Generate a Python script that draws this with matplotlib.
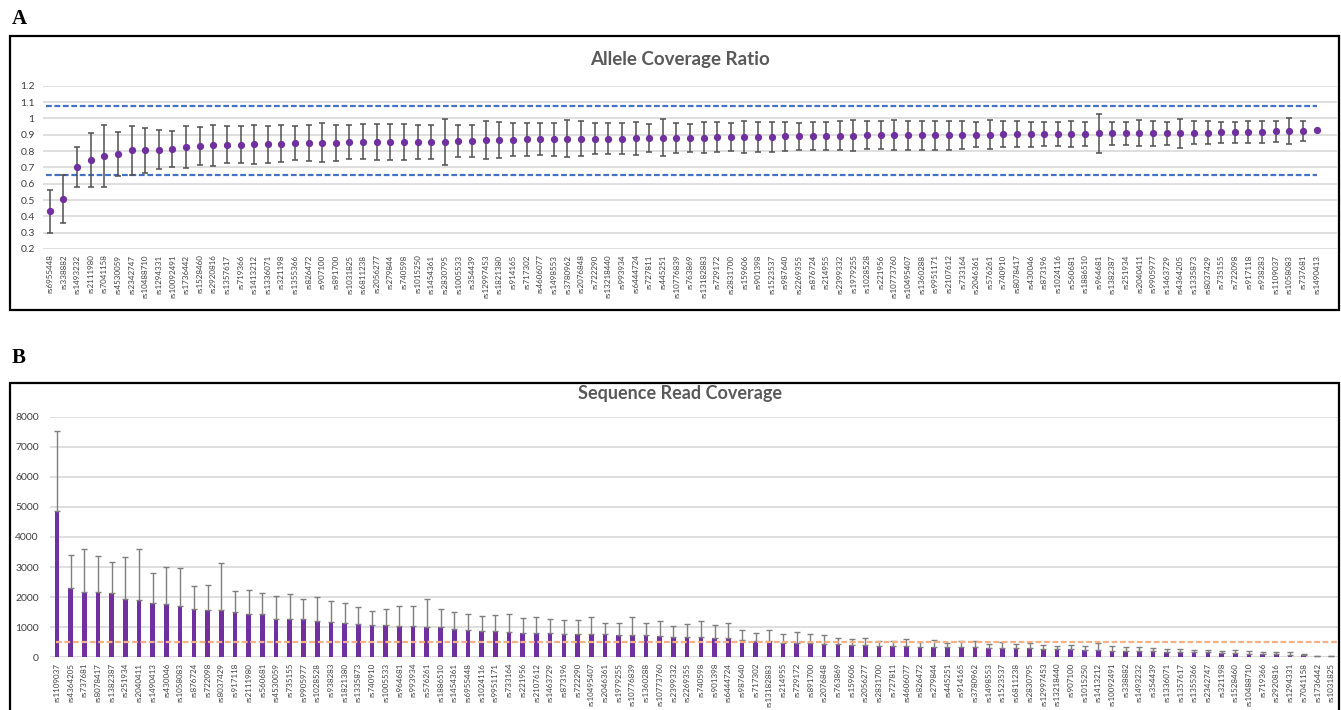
import matplotlib
matplotlib.use("Agg")
import matplotlib.pyplot as plt
from matplotlib.patches import Rectangle
import numpy as np

# ---------------- data ----------------
ratio_snps = [
    "rs6955448", "rs338882", "rs1493232", "rs2111980", "rs7041158", "rs4530059",
    "rs2342747", "rs10488710", "rs1294331", "rs10092491", "rs1736442", "rs1528460",
    "rs2920816", "rs1357617", "rs719366", "rs1413212", "rs1336071", "rs321198",
    "rs1355366", "rs826472", "rs907100", "rs891700", "rs1031825", "rs6811238",
    "rs2056277", "rs279844", "rs740598", "rs1015250", "rs1454361", "rs2830795",
    "rs1005533", "rs354439", "rs12997453", "rs1821380", "rs914165", "rs717302",
    "rs4606077", "rs1498553", "rs3780962", "rs2076848", "rs722290", "rs13218440",
    "rs993934", "rs6444724", "rs727811", "rs445251", "rs10776839", "rs763869",
    "rs13182883", "rs729172", "rs2831700", "rs159606", "rs901398", "rs1523537",
    "rs987640", "rs2269355", "rs876724", "rs214955", "rs2399332", "rs1979255",
    "rs1028528", "rs221956", "rs10773760", "rs10495407", "rs1360288", "rs9951171",
    "rs2107612", "rs733164", "rs2046361", "rs576261", "rs740910", "rs8078417",
    "rs430046", "rs873196", "rs1024116", "rs560681", "rs1886510", "rs964681",
    "rs1382387", "rs251934", "rs2040411", "rs9905977", "rs1463729", "rs4364205",
    "rs1335873", "rs8037429", "rs735155", "rs722098", "rs917118", "rs938283",
    "rs1109037", "rs1058083", "rs737681", "rs1490413",
]
ratio_mean = [
    0.430, 0.506, 0.702, 0.747, 0.769, 0.782, 0.804, 0.804, 0.808, 0.812,
    0.824, 0.829, 0.835, 0.839, 0.839, 0.841, 0.841, 0.845, 0.851, 0.851,
    0.851, 0.851, 0.855, 0.857, 0.857, 0.857, 0.857, 0.857, 0.857, 0.857,
    0.861, 0.863, 0.867, 0.869, 0.869, 0.871, 0.871, 0.871, 0.876, 0.876,
    0.876, 0.876, 0.876, 0.878, 0.878, 0.882, 0.882, 0.882, 0.882, 0.886,
    0.886, 0.886, 0.886, 0.886, 0.890, 0.890, 0.890, 0.894, 0.894, 0.894,
    0.896, 0.896, 0.896, 0.896, 0.896, 0.896, 0.896, 0.900, 0.900, 0.900,
    0.902, 0.902, 0.902, 0.904, 0.904, 0.904, 0.904, 0.908, 0.908, 0.908,
    0.908, 0.908, 0.908, 0.908, 0.912, 0.912, 0.914, 0.914, 0.916, 0.916,
    0.920, 0.922, 0.922, 0.927,
]
ratio_sd = [
    0.130, 0.145, 0.125, 0.165, 0.190, 0.135, 0.150, 0.140, 0.120, 0.112,
    0.130, 0.117, 0.125, 0.114, 0.113, 0.118, 0.115, 0.115, 0.105, 0.110,
    0.118, 0.110, 0.105, 0.108, 0.110, 0.110, 0.110, 0.105, 0.105, 0.142,
    0.100, 0.097, 0.118, 0.110, 0.100, 0.100, 0.098, 0.100, 0.113, 0.105,
    0.095, 0.095, 0.097, 0.100, 0.087, 0.113, 0.092, 0.085, 0.097, 0.092,
    0.088, 0.097, 0.090, 0.090, 0.088, 0.083, 0.086, 0.085, 0.090, 0.095,
    0.085, 0.085, 0.092, 0.088, 0.088, 0.088, 0.088, 0.085, 0.078, 0.088,
    0.080, 0.080, 0.077, 0.076, 0.072, 0.082, 0.074, 0.120, 0.070, 0.070,
    0.080, 0.075, 0.072, 0.087, 0.070, 0.070, 0.066, 0.066, 0.068, 0.066,
    0.062, 0.078, 0.060, 0.000,
]
ratio_upper_limit = 1.077
ratio_lower_limit = 0.653

cov_snps = [
    "rs1109037", "rs4364205", "rs737681", "rs8078417", "rs1382387", "rs251934",
    "rs2040411", "rs1490413", "rs430046", "rs1058083", "rs876724", "rs722098",
    "rs8037429", "rs917118", "rs2111980", "rs560681", "rs4530059", "rs735155",
    "rs9905977", "rs1028528", "rs938283", "rs1821380", "rs1335873", "rs740910",
    "rs1005533", "rs964681", "rs993934", "rs576261", "rs1886510", "rs1454361",
    "rs6955448", "rs1024116", "rs9951171", "rs733164", "rs221956", "rs2107612",
    "rs1463729", "rs873196", "rs722290", "rs10495407", "rs2046361", "rs1979255",
    "rs10776839", "rs1360288", "rs10773760", "rs2399332", "rs2269355", "rs740598",
    "rs901398", "rs6444724", "rs987640", "rs717302", "rs13182883", "rs214955",
    "rs729172", "rs891700", "rs2076848", "rs763869", "rs159606", "rs2056277",
    "rs2831700", "rs727811", "rs4606077", "rs826472", "rs279844", "rs445251",
    "rs914165", "rs3780962", "rs1498553", "rs1523537", "rs6811238", "rs2830795",
    "rs12997453", "rs13218440", "rs907100", "rs1015250", "rs1413212", "rs10092491",
    "rs338882", "rs1493232", "rs354439", "rs1336071", "rs1357617", "rs1355366",
    "rs2342747", "rs321198", "rs1528460", "rs10488710", "rs719366", "rs2920816",
    "rs1294331", "rs7041158", "rs1736442", "rs1031825",
]
cov_mean = [
    4870, 2294, 2183, 2183, 2150, 1939, 1917, 1795, 1762, 1706,
    1618, 1573, 1573, 1518, 1452, 1429, 1285, 1274, 1263, 1208,
    1175, 1130, 1108, 1064, 1064, 1030, 1030, 1008, 997, 953,
    897, 886, 886, 831, 798, 798, 798, 787, 776, 765,
    765, 753, 753, 731, 720, 687, 676, 665, 632, 632,
    587, 543, 543, 488, 476, 476, 443, 432, 410, 399,
    377, 366, 366, 355, 332, 332, 332, 332, 299, 299,
    299, 299, 288, 277, 277, 233, 233, 222, 211, 211,
    200, 177, 166, 166, 166, 133, 133, 122, 100, 100,
    89, 66, 44, 44,
]
cov_sd = [
    2670, 1110, 1410, 1200, 1030, 1400, 1670, 1010, 1230, 1250,
    750, 840, 1570, 690, 800, 720, 765, 830, 675, 810,
    700, 665, 575, 465, 545, 690, 690, 930, 620, 545,
    545, 500, 530, 620, 510, 530, 490, 455, 455, 575,
    390, 400, 600, 420, 475, 365, 430, 530, 430, 500,
    310, 265, 355, 300, 355, 290, 290, 220, 210, 255,
    165, 175, 230, 155, 230, 155, 210, 210, 155, 210,
    155, 165, 120, 110, 120, 135, 230, 145, 145, 120,
    100, 100, 100, 80, 90, 90, 120, 100, 80, 80,
    80, 45, 10, 10,
]
cov_threshold = 500

# ---------------- styling ----------------
PURPLE = "#7030A0"
GRID = "#D9D9D9"
TITLE_GRAY = "#595959"
TICK_GRAY = "#404040"
FONT = "Lato"

W, H = 1341, 710
fig = plt.figure(figsize=(W / 100, H / 100), dpi=100)
fig.patch.set_facecolor("white")


def px_axes(left, top, right, bottom):
    return fig.add_axes([left / W, 1 - bottom / H, (right - left) / W, (bottom - top) / H])


def px_box(left, top, right, bottom):
    fig.patches.append(Rectangle((left / W, 1 - bottom / H), (right - left) / W,
                                 (bottom - top) / H, transform=fig.transFigure,
                                 fill=False, edgecolor="black", linewidth=1.6))


def style_axes(ax):
    for s in ax.spines.values():
        s.set_visible(False)
    ax.grid(axis="y", color=GRID, linewidth=1.2)
    ax.set_axisbelow(True)
    ax.tick_params(axis="both", length=0, colors=TICK_GRAY)


# ---------------- panel A ----------------
px_box(10, 36, 1339, 310)
fig.text(12 / W, 1 - 19 / H, "A", family="Liberation Serif", fontsize=15,
         fontweight="bold", va="center", ha="left")
fig.text(680 / W, 1 - 59 / H, "Allele Coverage Ratio", family=FONT, fontsize=13.5,
         fontweight="bold", color=TITLE_GRAY, ha="center", va="center")

axA = px_axes(43, 85.7, 1337, 249)
style_axes(axA)
xa = np.arange(len(ratio_snps))
axA.errorbar(xa, ratio_mean, yerr=ratio_sd, fmt="o", color=PURPLE, markersize=4.2,
             ecolor="#505050", elinewidth=1.1, capsize=2.2, capthick=1.1, zorder=3)
axA.hlines([ratio_upper_limit, ratio_lower_limit], -0.3, len(ratio_snps) - 1,
           colors="#4472C4", linewidth=1.6, linestyles=(0, (2.6, 1.2)), zorder=2)
axA.set_xlim(-0.5, len(ratio_snps) + 0.5)
axA.set_ylim(0.2, 1.2)
axA.set_yticks(np.round(np.arange(0.2, 1.21, 0.1), 1))
axA.set_yticklabels([f"{v:g}" for v in np.round(np.arange(0.2, 1.21, 0.1), 1)],
                    family=FONT, fontsize=7.5)
axA.set_xticks(xa)
axA.set_xticklabels(ratio_snps, rotation=90, family=FONT, fontsize=5.8)
axA.tick_params(axis="y", pad=6)
axA.tick_params(axis="x", pad=4)

# ---------------- panel B ----------------
px_box(10, 383, 1339, 712)
fig.text(12 / W, 1 - 358 / H, "B", family="Liberation Serif", fontsize=15,
         fontweight="bold", va="center", ha="left")
fig.text(680 / W, 1 - 393 / H, "Sequence Read Coverage", family=FONT, fontsize=13,
         fontweight="bold", color=TITLE_GRAY, ha="center", va="center")

axB = px_axes(50, 416.7, 1338, 657.3)
style_axes(axB)
xb = np.arange(len(cov_snps))
axB.bar(xb, cov_mean, width=0.34, color=PURPLE, zorder=2)
axB.errorbar(xb, cov_mean, yerr=[np.zeros(len(cov_sd)), cov_sd], fmt="none",
             ecolor="#7F7F7F", elinewidth=1.0, capsize=2.0, capthick=1.0, zorder=3)
axB.axhline(cov_threshold, xmin=0.005, xmax=1.0, color="#F4B183", linewidth=1.6,
            linestyle=(0, (2.6, 1.2)), zorder=4)
axB.axhline(0, color=GRID, linewidth=1.2, zorder=1)
axB.set_xlim(-0.5, len(cov_snps) - 0.5)
axB.set_ylim(0, 8000)
axB.set_yticks(np.arange(0, 8001, 1000))
axB.set_yticklabels([str(v) for v in range(0, 8001, 1000)], family=FONT, fontsize=7.5)
axB.set_xticks(xb)
axB.set_xticklabels(cov_snps, rotation=90, family=FONT, fontsize=5.8)
axB.tick_params(axis="y", pad=8)
axB.tick_params(axis="x", pad=4)

fig.savefig("out.png", dpi=100, facecolor="white")
